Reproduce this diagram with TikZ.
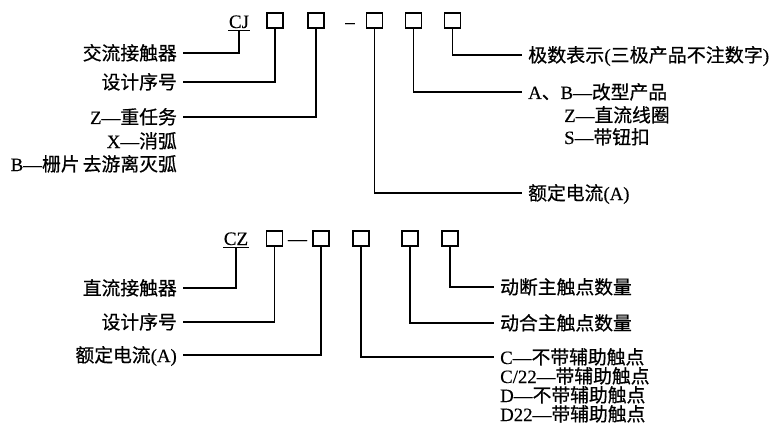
\documentclass[tikz,border=0pt]{standalone}
\usepackage{fontspec}
\setmainfont{Noto Sans CJK SC}[FakeBold=0.6]
\newfontfamily\latn{Liberation Serif}[FakeBold=0.3]
\begin{document}
\begin{tikzpicture}[x=1pt,y=-1pt,
  every node/.style={font=\fontsize{18.8}{19}\selectfont, text=black},
  lab/.style={inner ysep=0pt, text height=16pt, text depth=2pt},
  llab/.style={lab, anchor=east, inner xsep=6pt},
  rlab/.style={lab, anchor=west, inner xsep=6pt},
  bx/.style={draw, line width=1.2pt, minimum width=16pt, minimum height=15pt, inner sep=0pt},
  code/.style={inner sep=0pt, anchor=base, font=\latn\fontsize{19}{19}\selectfont},
  ln/.style={line width=1.2pt}]
\useasboundingbox[fill=white] (0,0) rectangle (776,433);

% ---------------- CJ ----------------
\node[code] (cj) at (239,28) {CJ};
\node[bx] (b1) at (275,20.5) {};
\node[bx] (b2) at (316,20.5) {};
\node[code] (dash1) at (350,28) {–};
\node[bx] (b3) at (374.5,20.5) {};
\node[bx] (b4) at (413.5,20.5) {};
\node[bx] (b5) at (452.5,20.5) {};
\coordinate (cju) at ([yshift=-2.5pt]cj.base);
\draw[ln] ([yshift=-2.5pt,xshift=-0.5pt]cj.base west) -- ([yshift=-2.5pt,xshift=0.5pt]cj.base east);

\node[llab] (a1) at (183,53) {交流接触器};
\node[llab] (a2) at (183,82) {设计序号};
\node[llab] (a3) at (183,117) {{\latn Z—}重任务};
\node[llab] (a3b) at (183,141) {{\latn X—}消弧};
\node[llab] (a3c) at (183,164) {{\latn B—}栅片\,去游离灭弧};

\node[rlab] (r5) at (522,55) {\resizebox{241pt}{\height}{极数表示{\latn(}三极产品不注数字{\latn)}}};
\node[rlab] (r4) at (522,92) {{\latn A}、{\latn B—}改型产品};
\node[rlab] (r4b) at (558,115) {{\latn Z—}直流线圈};
\node[rlab] (r4c) at (558,137) {{\latn S—}带钮扣};
\node[rlab] (r3) at (522,193) {额定电流{\latn (A)}};

\draw[ln] (a1.east) -| (cju);
\draw[ln] (a2.east) -| (b1.south);
\draw[ln] (a3.east) -| (b2.south);
\draw[ln] (b3.south) |- (r3.west);
\draw[ln] (b4.south) |- (r4.west);
\draw[ln] (b5.south) |- (r5.west);

% ---------------- CZ ----------------
\node[code] (cz) at (236,245) {CZ};
\node[bx] (c1) at (274.5,238.5) {};
\node[code] (dash2) at (297.5,245) {—};
\node[bx] (c2) at (321,238.5) {};
\node[bx] (c3) at (361,238.5) {};
\node[bx] (c4) at (410,238.5) {};
\node[bx] (c5) at (450,238.5) {};
\coordinate (czu) at ([yshift=-2.5pt]cz.base);
\draw[ln] ([yshift=-2.5pt,xshift=-0.5pt]cz.base west) -- ([yshift=-2.5pt,xshift=0.5pt]cz.base east);

\node[llab] (d1) at (183,288) {直流接触器};
\node[llab] (d2) at (183,322) {设计序号};
\node[llab] (d3) at (183,355) {额定电流{\latn (A)}};

\node[rlab] (e5) at (494,287) {动断主触点数量};
\node[rlab] (e4) at (494,323) {动合主触点数量};
\node[rlab] (e3) at (494,357) {{\latn C—}不带辅助触点};
\node[rlab] (e3b) at (494,376) {{\latn C/22—}带辅助触点};
\node[rlab] (e3c) at (494,395) {{\latn D—}不带辅助触点};
\node[rlab] (e3d) at (494,414) {{\latn D22—}带辅助触点};

\draw[ln] (d1.east) -| (czu);
\draw[ln] (d2.east) -| (c1.south);
\draw[ln] (d3.east) -| (c2.south);
\draw[ln] (c3.south) |- (e3.west);
\draw[ln] (c4.south) |- (e4.west);
\draw[ln] (c5.south) |- (e5.west);
\end{tikzpicture}
\end{document}
